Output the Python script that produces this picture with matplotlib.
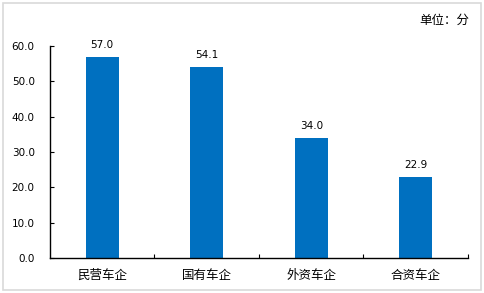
import matplotlib
matplotlib.use("Agg")
import matplotlib.pyplot as plt
from matplotlib.patches import Rectangle

plt.rcParams['font.family'] = ['Noto Sans CJK SC', 'DejaVu Sans']

# data
categories = ['民营车企', '国有车企', '外资车企', '合资车企']
scores = [57.0, 54.1, 34.0, 22.9]
y_ticks = [0, 10, 20, 30, 40, 50, 60]
bar_color = '#0070C0'

fig = plt.figure(figsize=(4.85, 2.93), dpi=100)

# light gray frame round the whole chart
fig.patches.append(Rectangle((3 / 485, 3 / 293), 478 / 485, 287 / 293,
                             transform=fig.transFigure, fill=False,
                             edgecolor='#d9d9d9', linewidth=1.2))

ax = fig.add_axes([50 / 485, 35 / 293, 418 / 485, 212 / 293])

x = list(range(len(categories)))
bars = ax.bar(x, scores, width=0.32, color=bar_color, zorder=2)

for xi, v in zip(x, scores):
    ax.text(xi, v + 2, f'{v:.1f}', ha='center', va='bottom', fontsize=7.5,
            family='DejaVu Sans')

ax.set_xlim(-0.5, len(categories) - 0.5)
ax.set_ylim(0, 60)
ax.set_yticks(y_ticks)
ax.set_yticklabels([f'{t:.1f}' for t in y_ticks], fontsize=7.5, family='DejaVu Sans')

ax.set_xticks(x)
ax.set_xticklabels(categories, fontsize=9)
ax.tick_params(axis='x', length=0, pad=8)
ax.set_xticks([i + 0.5 for i in range(len(categories))], minor=True)
ax.tick_params(axis='x', which='minor', direction='in', length=3, width=0.8)
ax.tick_params(axis='y', direction='in', length=3, width=0.8, pad=11)

for s in ['top', 'right']:
    ax.spines[s].set_visible(False)
for s in ['left', 'bottom']:
    ax.spines[s].set_linewidth(1.0)
    ax.spines[s].set_color('black')

fig.text(444 / 485, 1 - 20 / 293, '单位：分', ha='center', va='center', fontsize=9)

fig.savefig('out.png', dpi=100)
